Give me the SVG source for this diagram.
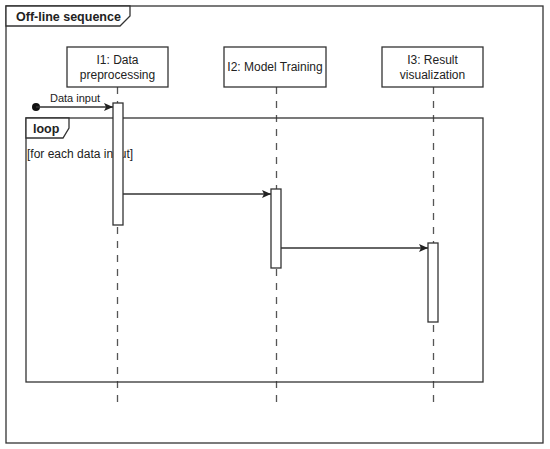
<svg xmlns="http://www.w3.org/2000/svg" width="550" height="449" viewBox="0 0 550 449">
<defs>
<marker id="arr" markerWidth="10" markerHeight="10" refX="9" refY="5" orient="auto" markerUnits="userSpaceOnUse">
<path d="M0,1 L9,5 L0,9 L2,5 Z" fill="#222"/>
</marker>
<style>
.frame{fill:none;stroke:#333;stroke-width:1.3}
.tab{fill:#fff;stroke:#333;stroke-width:1.3}
.box{fill:#fff;stroke:#333;stroke-width:1.3}
.life{stroke:#555;stroke-width:1.3;stroke-dasharray:7 7;fill:none}
.act{fill:#fff;stroke:#333;stroke-width:1.3}
.msg{stroke:#333;stroke-width:1.3;fill:none;marker-end:url(#arr)}
text{font-family:"Liberation Sans",Arial,sans-serif;fill:#222}
.lbl{font-size:12px;text-anchor:middle}
.bold{font-weight:bold}
</style>
</defs>
<rect width="550" height="449" fill="#fff"/>
<g id="frame">
<rect class="frame" x="6" y="6" width="537" height="437"/>
<path class="tab" d="M6,6 L130,6 L130,16 L120,26 L6,26 Z"/>
<text x="16" y="21" font-size="12.5" class="bold">Off-line sequence</text>
</g>
<g id="lifelines">
<line class="life" x1="117.5" y1="87" x2="117.5" y2="406"/>
<line class="life" x1="276.5" y1="87" x2="276.5" y2="406"/>
<line class="life" x1="433.5" y1="87" x2="433.5" y2="406"/>
</g>
<g id="loop">
<rect class="frame" x="26" y="118" width="457" height="264"/>
<path class="tab" d="M26,118 L69,118 L69,128 L63,138 L26,138 Z"/>
<text x="33" y="133" font-size="12.5" class="bold">loop</text>
<text x="27" y="158" font-size="12">[for each data input]</text>
</g>
<g id="I1">
<rect class="box" x="67" y="47" width="101" height="40"/>
<text class="lbl" x="117.5" y="64">I1: Data</text>
<text class="lbl" x="117.5" y="79">preprocessing</text>
</g>
<g id="I2">
<rect class="box" x="224" y="47" width="102" height="40"/>
<text class="lbl" x="275" y="71">I2: Model Training</text>
</g>
<g id="I3">
<rect class="box" x="382" y="47" width="101" height="40"/>
<text class="lbl" x="432.5" y="64">I3: Result</text>
<text class="lbl" x="432.5" y="79">visualization</text>
</g>
<g id="activations">
<rect class="act" x="113" y="103" width="10" height="122"/>
<rect class="act" x="271" y="189" width="10" height="79"/>
<rect class="act" x="428" y="243" width="10" height="79"/>
</g>
<g id="connectors">
<circle cx="36" cy="107" r="4" fill="#111"/>
<line class="msg" x1="36" y1="107" x2="113" y2="107"/>
<text x="50" y="102" font-size="11">Data input</text>
<line class="msg" x1="123" y1="194" x2="271" y2="194"/>
<line class="msg" x1="281" y1="248" x2="428" y2="248"/>
</g>
</svg>
